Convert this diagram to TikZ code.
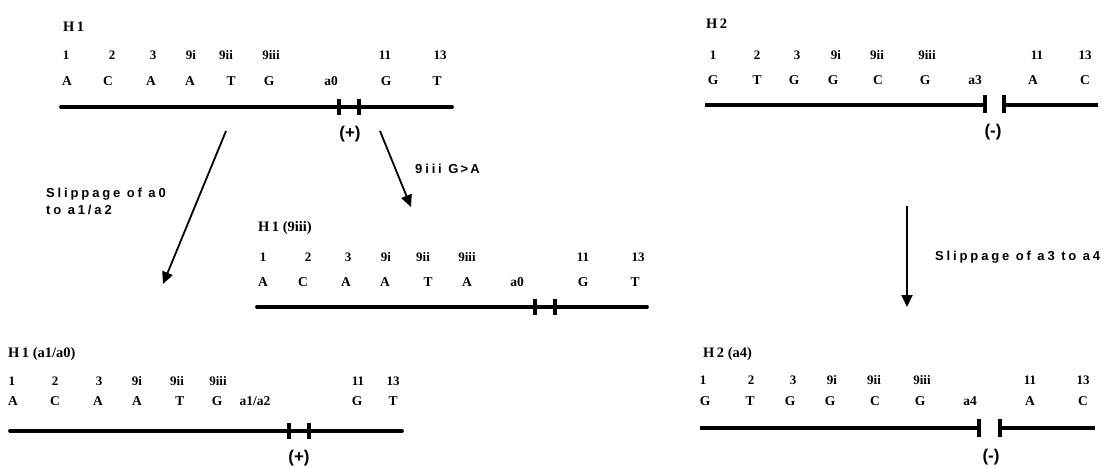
\documentclass[tikz,border=0pt]{standalone}
\usepackage{fontspec}
\setmainfont{Liberation Serif}
\newfontfamily\labfont[LetterSpace=22]{Liberation Sans}
\newfontfamily\signfont{Liberation Sans}
\usetikzlibrary{arrows.meta}
\tikzset{
  num/.style={font=\fontsize{13}{13}\selectfont\bfseries, anchor=base, inner sep=0pt},
  base/.style={font=\fontsize{13.5}{13.5}\selectfont\bfseries, anchor=base, inner sep=0pt},
  title/.style={font=\fontsize{14.5}{14.5}\selectfont\bfseries, anchor=base west, inner sep=0pt},
  lab/.style={font=\fontsize{13}{17}\labfont\bfseries, anchor=west, inner sep=0pt, align=left},
  sign/.style={font=\fontsize{17}{17}\signfont\bfseries, inner sep=0pt},
  strand/.style={line width=3.8pt, line cap=round},
  strandb/.style={line width=3.8pt},
  tick/.style={line width=3.8pt},
  arr/.style={line width=1.8pt, -{Triangle[width=11pt,length=12pt]}}
}
\begin{document}
\begin{tikzpicture}[x=1pt,y=-1pt]
\useasboundingbox (0,0) rectangle (1117,468);

% ---------------- H1 ----------------
\node[title] (h1t) at (63,32) {H\,1};
\foreach \x/\t [count=\k] in {66/1,112/2,153/3,191/9i,226/9ii,271/9iii,385/11,440/13}
  \node[num] (h1n\k) at (\x,59.5) {\t};
\foreach \x/\t [count=\k] in {67/A,108/C,151/A,190/A,231/T,269/G,331/a0,386/G,437/T}
  \node[base] (h1b\k) at (\x,85.5) {\t};
\coordinate (h1l) at (61,107);
\coordinate (h1r) at (452,107);
\draw[strand] (h1l) -- (h1r);
\draw[tick] (339,99) -- (339,115);
\draw[tick] (359,99) -- (359,115);
\node[sign] (h1s) at (350,134) {(+)};

% arrows from H1
\coordinate (a1s) at (226,131);
\coordinate (a1e) at (163,284);
\draw[arr] (a1s) -- (a1e);
\coordinate (a2s) at (380,131);
\coordinate (a2e) at (411,207);
\draw[arr] (a2s) -- (a2e);
\node[lab] (l1) at (46,201) {Slippage of a0\\to a1/a2};
\node[lab] (l2) at (415,169) {9iii G\,>\,A};

% ---------------- H1 (9iii) ----------------
\node[title] (h9t) at (258,231) {H\,1 (9iii)};
\foreach \x/\t [count=\k] in {263/1,308/2,348/3,386/9i,423/9ii,467/9iii,583/11,638/13}
  \node[num] (h9n\k) at (\x,261.5) {\t};
\foreach \x/\t [count=\k] in {263/A,303/C,346/A,385/A,428/T,467/A,517/a0,583/G,635/T}
  \node[base] (h9b\k) at (\x,286.5) {\t};
\coordinate (h9l) at (257,307);
\coordinate (h9r) at (647,307);
\draw[strand] (h9l) -- (h9r);
\draw[tick] (535,299) -- (535,315);
\draw[tick] (555,299) -- (555,315);

% ---------------- H1 (a1/a0) ----------------
\node[title] (hat) at (8,357) {H\,1 (a1/a0)};
\foreach \x/\t [count=\k] in {12/1,55/2,99/3,137/9i,177/9ii,218/9iii,358/11,393/13}
  \node[num] (han\k) at (\x,385.5) {\t};
\foreach \x/\t [count=\k] in {13/A,55/C,98/A,137/A,180/T,217/G,255/{a1/a2},357/G,393/T}
  \node[base] (hab\k) at (\x,405.5) {\t};
\coordinate (hal) at (10,431);
\coordinate (har) at (402,431);
\draw[strand] (hal) -- (har);
\draw[tick] (289,423) -- (289,439);
\draw[tick] (309,423) -- (309,439);
\node[sign] (has) at (299,458) {(+)};

% ---------------- H2 ----------------
\node[title] (h2t) at (706,29) {H\,2};
\foreach \x/\t [count=\k] in {713/1,757/2,797/3,836/9i,877/9ii,927/9iii,1037/11,1085/13}
  \node[num] (h2n\k) at (\x,59.5) {\t};
\foreach \x/\t [count=\k] in {713/G,757/T,794/G,833/G,878/C,925/G,975/a3,1033/A,1085/C}
  \node[base] (h2b\k) at (\x,84.5) {\t};
\coordinate (h2l) at (705,105);
\coordinate (h2m) at (985,105);
\coordinate (h2n) at (1004,105);
\coordinate (h2r) at (1098,105);
\draw[strandb] (h2l) -- (h2m);
\draw[strandb] (h2n) -- (h2r);
\draw[tick] (985,95) -- (985,113);
\draw[tick] (1004,95) -- (1004,113);
\node[sign] (h2s) at (993,132) {(-)};

% arrow H2 -> H2 (a4)
\coordinate (a3s) at (907,206);
\coordinate (a3e) at (907,307);
\draw[arr] (a3s) -- (a3e);
\node[lab] (l3) at (935,257) {Slippage of a3 to a4};

% ---------------- H2 (a4) ----------------
\node[title] (h4t) at (703,357) {H\,2 (a4)};
\foreach \x/\t [count=\k] in {703/1,751/2,793/3,832/9i,874/9ii,922/9iii,1030/11,1083/13}
  \node[num] (h4n\k) at (\x,384.5) {\t};
\foreach \x/\t [count=\k] in {705/G,750/T,790/G,830/G,875/C,920/G,970/a4,1030/A,1083/C}
  \node[base] (h4b\k) at (\x,405.5) {\t};
\coordinate (h4l) at (700,428);
\coordinate (h4m) at (979,428);
\coordinate (h4n) at (1000,428);
\coordinate (h4r) at (1095,428);
\draw[strandb] (h4l) -- (h4m);
\draw[strandb] (h4n) -- (h4r);
\draw[tick] (979,419) -- (979,437);
\draw[tick] (1000,419) -- (1000,437);
\node[sign] (h4s) at (991,457) {(-)};
\end{tikzpicture}
\end{document}
